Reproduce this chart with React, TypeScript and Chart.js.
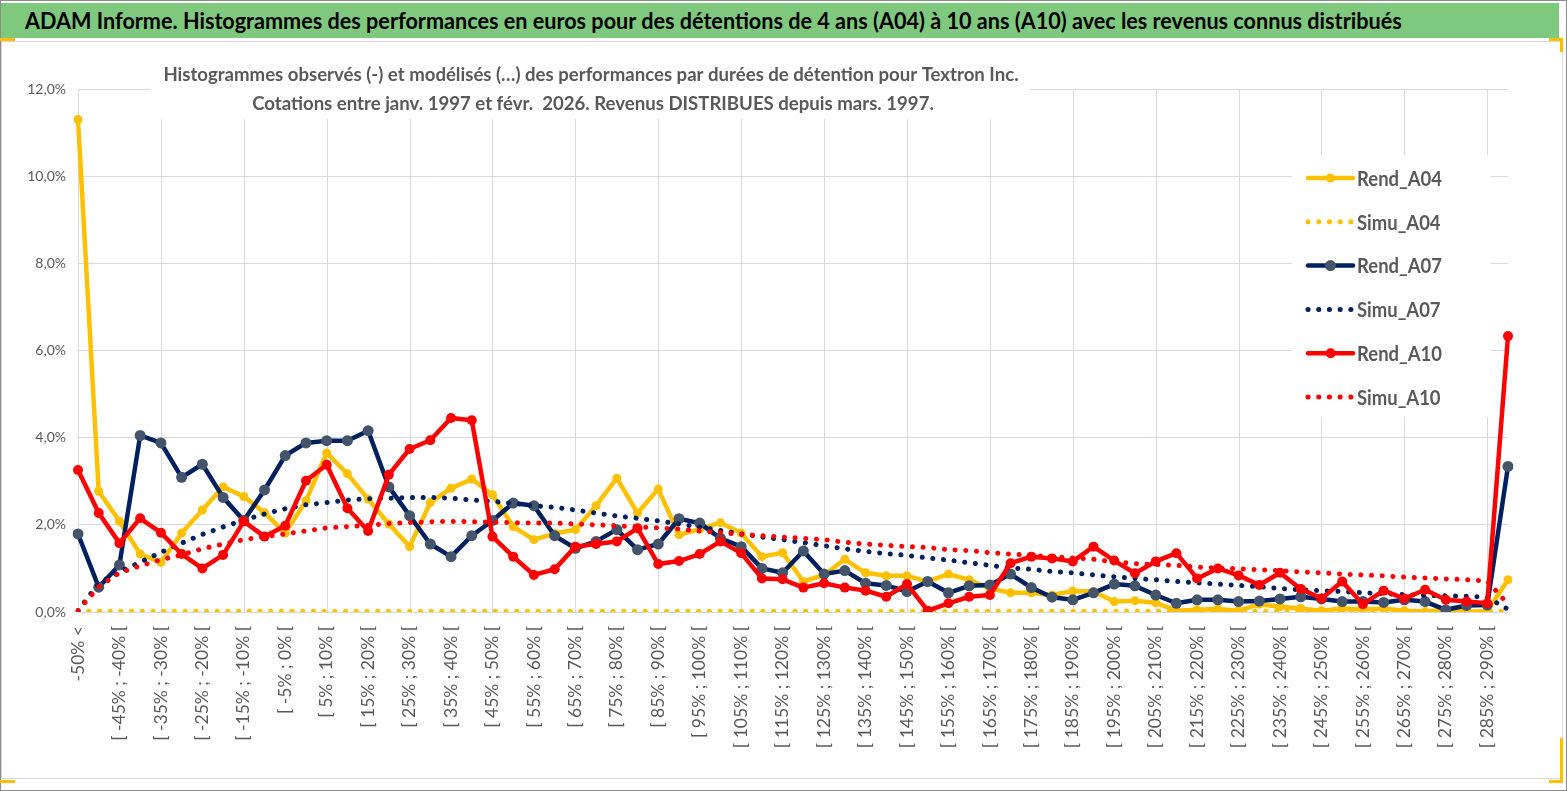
import React, { useEffect, useRef } from 'react';
import { Chart, registerables } from 'chart.js';

Chart.register(...registerables);

const headerTitle =
  'ADAM Informe. Histogrammes des performances en euros pour des détentions de 4 ans (A04) à 10 ans (A10) avec les revenus connus distribués';

const chartTitleLines = [
  'Histogrammes observés (-) et modélisés (…) des performances par durées de détention pour Textron Inc.',
  'Cotations entre janv. 1997 et févr.  2026. Revenus DISTRIBUES depuis mars. 1997.',
];

const categories = [
  '-50% <', '[ -50% ; -45% [', '[ -45% ; -40% [', '[ -40% ; -35% [', '[ -35% ; -30% [',
  '[ -30% ; -25% [', '[ -25% ; -20% [', '[ -20% ; -15% [', '[ -15% ; -10% [', '[ -10% ; -5% [',
  '[ -5% ; 0% [', '[ 0% ; 5% [', '[ 5% ; 10% [', '[ 10% ; 15% [', '[ 15% ; 20% [',
  '[ 20% ; 25% [', '[ 25% ; 30% [', '[ 30% ; 35% [', '[ 35% ; 40% [', '[ 40% ; 45% [',
  '[ 45% ; 50% [', '[ 50% ; 55% [', '[ 55% ; 60% [', '[ 60% ; 65% [', '[ 65% ; 70% [',
  '[ 70% ; 75% [', '[ 75% ; 80% [', '[ 80% ; 85% [', '[ 85% ; 90% [', '[ 90% ; 95% [',
  '[ 95% ; 100% [', '[ 100% ; 105% [', '[ 105% ; 110% [', '[ 110% ; 115% [', '[ 115% ; 120% [',
  '[ 120% ; 125% [', '[ 125% ; 130% [', '[ 130% ; 135% [', '[ 135% ; 140% [', '[ 140% ; 145% [',
  '[ 145% ; 150% [', '[ 150% ; 155% [', '[ 155% ; 160% [', '[ 160% ; 165% [', '[ 165% ; 170% [',
  '[ 170% ; 175% [', '[ 175% ; 180% [', '[ 180% ; 185% [', '[ 185% ; 190% [', '[ 190% ; 195% [',
  '[ 195% ; 200% [', '[ 200% ; 205% [', '[ 205% ; 210% [', '[ 210% ; 215% [', '[ 215% ; 220% [',
  '[ 220% ; 225% [', '[ 225% ; 230% [', '[ 230% ; 235% [', '[ 235% ; 240% [', '[ 240% ; 245% [',
  '[ 245% ; 250% [', '[ 250% ; 255% [', '[ 255% ; 260% [', '[ 260% ; 265% [', '[ 265% ; 270% [',
  '[ 270% ; 275% [', '[ 275% ; 280% [', '[ 280% ; 285% [', '[ 285% ; 290% [', '> 290%',
];

// values in percent
const rendA04 = [
  11.3, 2.77, 2.08, 1.33, 1.14, 1.81, 2.34, 2.87, 2.65, 2.28,
  1.81, 2.55, 3.65, 3.17, 2.59, 2.02, 1.5, 2.51, 2.84, 3.05,
  2.69, 1.96, 1.66, 1.8, 1.89, 2.44, 3.07, 2.27, 2.82, 1.77,
  1.9, 2.05, 1.81, 1.27, 1.36, 0.7, 0.85, 1.21, 0.9, 0.83,
  0.83, 0.7, 0.87, 0.74, 0.54, 0.44, 0.44, 0.39, 0.48, 0.47,
  0.24, 0.26, 0.21, 0.03, 0.05, 0.07, 0.03, 0.18, 0.12, 0.08,
  0.03, 0.08, 0.06, 0.08, 0.03, 0.01, 0.05, 0.01, 0.02, 0.74,
];

const simuA04 = [
  0.02, 0.02, 0.02, 0.02, 0.02, 0.02, 0.02, 0.02, 0.02, 0.02,
  0.02, 0.02, 0.02, 0.02, 0.02, 0.02, 0.02, 0.02, 0.02, 0.02,
  0.02, 0.02, 0.02, 0.02, 0.02, 0.02, 0.02, 0.02, 0.02, 0.02,
  0.02, 0.02, 0.02, 0.02, 0.02, 0.02, 0.02, 0.02, 0.02, 0.02,
  0.02, 0.02, 0.02, 0.02, 0.02, 0.02, 0.02, 0.02, 0.02, 0.02,
  0.02, 0.02, 0.02, 0.02, 0.02, 0.02, 0.02, 0.02, 0.02, 0.02,
  0.02, 0.02, 0.02, 0.02, 0.02, 0.02, 0.02, 0.02, 0.02, 0.02,
];

const rendA07 = [
  1.79, 0.57, 1.08, 4.05, 3.88, 3.09, 3.39, 2.63, 2.1, 2.8,
  3.59, 3.88, 3.93, 3.93, 4.16, 2.87, 2.21, 1.56, 1.27, 1.75,
  2.1, 2.5, 2.44, 1.75, 1.46, 1.62, 1.89, 1.43, 1.56, 2.14,
  2.04, 1.69, 1.5, 1.0, 0.9, 1.4, 0.87, 0.95, 0.66, 0.61,
  0.47, 0.7, 0.44, 0.6, 0.62, 0.87, 0.56, 0.34, 0.28, 0.44,
  0.64, 0.6, 0.39, 0.2, 0.28, 0.28, 0.24, 0.25, 0.3, 0.35,
  0.3, 0.24, 0.24, 0.22, 0.28, 0.24, 0.05, 0.15, 0.16, 3.34,
];

const simuA07 = [
  0.03, 0.66, 0.93, 1.14, 1.37, 1.58, 1.78, 1.95, 2.11, 2.25,
  2.37, 2.46, 2.51, 2.57, 2.6, 2.61, 2.63, 2.63, 2.61, 2.57,
  2.54, 2.49, 2.44, 2.4, 2.34, 2.27, 2.2, 2.15, 2.09, 2.02,
  1.95, 1.87, 1.79, 1.72, 1.66, 1.59, 1.52, 1.45, 1.39, 1.34,
  1.3, 1.24, 1.19, 1.13, 1.07, 1.01, 0.98, 0.93, 0.9, 0.85,
  0.81, 0.77, 0.74, 0.7, 0.67, 0.64, 0.61, 0.58, 0.54, 0.51,
  0.49, 0.47, 0.44, 0.42, 0.4, 0.38, 0.37, 0.36, 0.34, 0.06,
];

const rendA10 = [
  3.26, 2.27, 1.58, 2.15, 1.82, 1.33, 1.0, 1.31, 2.08, 1.73,
  1.98, 3.01, 3.38, 2.38, 1.86, 3.15, 3.74, 3.94, 4.45, 4.4,
  1.73, 1.27, 0.85, 0.98, 1.5, 1.56, 1.62, 1.92, 1.1, 1.17,
  1.33, 1.62, 1.35, 0.77, 0.75, 0.56, 0.66, 0.56, 0.49, 0.35,
  0.64, 0.03, 0.2, 0.35, 0.39, 1.12, 1.27, 1.23, 1.16, 1.5,
  1.18, 0.89, 1.16, 1.35, 0.77, 1.0, 0.84, 0.62, 0.9, 0.53,
  0.31, 0.7, 0.18, 0.49, 0.31, 0.51, 0.28, 0.24, 0.2, 6.33,
];

const simuA10 = [
  0.03, 0.58, 0.9, 1.06, 1.2, 1.31, 1.45, 1.56, 1.66, 1.73,
  1.79, 1.86, 1.93, 1.96, 1.99, 2.03, 2.05, 2.07, 2.08, 2.07,
  2.06, 2.05, 2.04, 2.04, 2.02, 2.0, 1.98, 1.95, 1.93, 1.9,
  1.86, 1.82, 1.78, 1.75, 1.72, 1.69, 1.66, 1.6, 1.56, 1.53,
  1.5, 1.48, 1.43, 1.41, 1.36, 1.33, 1.3, 1.27, 1.24, 1.21,
  1.15, 1.11, 1.09, 1.07, 1.03, 1.01, 0.99, 0.97, 0.95, 0.92,
  0.9, 0.87, 0.85, 0.83, 0.8, 0.78, 0.76, 0.74, 0.71, 0.18,
];

const yTicks = [0, 2, 4, 6, 8, 10, 12];
const xGridEvery = 4;
const xLabelEvery = 2;

const YELLOW = '#FFC000';
const NAVY = '#002060';
const NAVY_MARK = '#44546A';
const RED = '#FF0000';
const GRAY_TEXT = '#595959';
const GRID = '#D9D9D9';

const solid = (label: string, data: number[], color: string, mark: string, r: number, order: number) => ({
  label,
  data,
  borderColor: color,
  backgroundColor: color,
  borderWidth: 4.5,
  borderJoinStyle: 'round',
  borderCapStyle: 'round',
  pointRadius: r,
  pointBackgroundColor: mark,
  pointBorderColor: mark,
  pointBorderWidth: 0,
  tension: 0,
  fill: false,
  order,
});

const dotted = (label: string, data: number[], color: string, order: number) => ({
  label,
  data,
  borderColor: color,
  backgroundColor: color,
  borderWidth: 5,
  borderDash: [0.1, 10.6],
  borderCapStyle: 'round',
  pointRadius: 0,
  tension: 0,
  fill: false,
  order,
});

const drawNarrowText = (
  ctx: CanvasRenderingContext2D,
  text: string,
  x: number,
  y: number,
  sx: number,
) => {
  ctx.save();
  ctx.translate(x, y);
  ctx.scale(sx, 1);
  ctx.fillText(text, 0, 0);
  ctx.restore();
};

const overlayPlugin = {
  id: 'overlayPlugin',
  beforeDatasetsDraw(chart: any) {
    const ctx = chart.ctx as CanvasRenderingContext2D;
    const area = chart.chartArea;
    const xs = chart.scales.x;
    ctx.save();
    // vertical grid lines every 4 categories
    ctx.strokeStyle = GRID;
    ctx.lineWidth = 1;
    for (let i = 0; i < categories.length; i += xGridEvery) {
      const px = Math.round(xs.getPixelForValue(i)) + 0.5;
      ctx.beginPath();
      ctx.moveTo(px, area.top);
      ctx.lineTo(px, area.bottom);
      ctx.stroke();
    }
    // title box
    ctx.fillStyle = '#ffffff';
    ctx.fillRect(150, 58, 880, 61);
    // legend box
    ctx.fillRect(1292, 155, 199, 262);

    ctx.fillStyle = GRAY_TEXT;
    ctx.font = 'bold 18.6px Lato';
    ctx.textAlign = 'center';
    ctx.textBaseline = 'middle';
    ctx.fillText(chartTitleLines[0], 591, 75);
    ctx.fillText(chartTitleLines[1], 593, 104);

    chart.data.datasets.forEach((ds: any, i: number) => {
      const y = 178 + i * 43.8;
      const x0 = 1308;
      const x1 = 1353;
      ctx.save();
      ctx.strokeStyle = ds.borderColor;
      ctx.lineWidth = ds.borderWidth;
      ctx.lineCap = 'round';
      if (ds.borderDash) ctx.setLineDash(ds.borderDash);
      ctx.beginPath();
      ctx.moveTo(x0, y);
      ctx.lineTo(x1, y);
      ctx.stroke();
      ctx.setLineDash([]);
      if (ds.pointRadius > 0) {
        ctx.fillStyle = ds.pointBackgroundColor;
        ctx.beginPath();
        ctx.arc((x0 + x1) / 2, y, ds.pointRadius, 0, Math.PI * 2);
        ctx.fill();
      }
      ctx.restore();
      ctx.fillStyle = GRAY_TEXT;
      ctx.font = 'bold 21px Lato';
      ctx.textAlign = 'left';
      ctx.textBaseline = 'middle';
      drawNarrowText(ctx, ds.label, 1357, y + 1, 0.88);
    });
    ctx.restore();
  },
};

export default function App() {
  const canvasRef = useRef<HTMLCanvasElement | null>(null);

  useEffect(() => {
    if (!canvasRef.current) return;
    const chart = new Chart(canvasRef.current, {
      type: 'line',
      data: {
        labels: categories,
        datasets: [
          solid('Rend_A04', rendA04, YELLOW, YELLOW, 4.5, 6),
          dotted('Simu_A04', simuA04, YELLOW, 5),
          solid('Rend_A07', rendA07, NAVY, NAVY_MARK, 5.5, 4),
          dotted('Simu_A07', simuA07, NAVY, 3),
          solid('Rend_A10', rendA10, RED, RED, 5, 2),
          dotted('Simu_A10', simuA10, RED, 1),
        ] as any,
      },
      options: {
        animation: false,
        responsive: false,
        devicePixelRatio: 1,
        layout: { padding: { left: 0, top: 89, right: 59, bottom: 0 } },
        plugins: {
          legend: { display: false },
          title: { display: false },
          tooltip: { enabled: false },
        },
        scales: {
          x: {
            type: 'category',
            offset: false,
            afterFit: (scale: any) => {
              scale.height = 179;
            },
            grid: { display: false, drawTicks: false },
            border: { display: false },
            ticks: {
              autoSkip: false,
              maxRotation: 90,
              minRotation: 90,
              padding: 14,
              color: GRAY_TEXT,
              font: { family: 'Lato', size: 17.5 },
              callback: (_v: any, idx: number) => (idx % xLabelEvery === 0 ? categories[idx] : ''),
            },
          },
          y: {
            min: 0,
            max: 12,
            afterFit: (scale: any) => {
              scale.width = 78;
            },
            afterBuildTicks: (scale: any) => {
              scale.ticks = yTicks.map((v) => ({ value: v }));
            },
            grid: { color: GRID, lineWidth: 1, drawTicks: false },
            border: { display: false },
            ticks: {
              padding: 12,
              color: GRAY_TEXT,
              font: { family: 'Lato', size: 14 },
              callback: (v: any) => Number(v).toFixed(1).replace('.', ',') + '%',
            },
          },
        },
      } as any,
      plugins: [overlayPlugin],
    });
    return () => chart.destroy();
  }, []);

  const abs = (s: React.CSSProperties): React.CSSProperties => ({ position: 'absolute', pointerEvents: 'none', ...s });

  return (
    <div style={{ position: 'absolute', left: 0, top: 0, width: 1567, height: 791, background: '#ffffff', overflow: 'hidden' }}>
      <canvas ref={canvasRef} width={1567} height={791} style={{ position: 'absolute', left: 0, top: 0, width: 1567, height: 791 }} />
      {/* header bar */}
      <div
        style={abs({
          left: 1,
          top: 3,
          width: 1558,
          height: 35,
          background: '#7FC97F',
          boxSizing: 'border-box',
          overflow: 'hidden',
        })}
      >
        <div
          style={{
            position: 'absolute',
            left: 24,
            top: 0,
            color: '#000000',
            fontFamily: 'Lato, sans-serif',
            fontWeight: 700,
            fontSize: 23,
            lineHeight: '35px',
            whiteSpace: 'nowrap',
            transform: 'scaleX(0.94)',
            transformOrigin: 'left center',
          }}
        >
          {headerTitle}
        </div>
      </div>
      {/* chart frame */}
      <div style={abs({ left: 1, top: 41, width: 1562, height: 738, border: '1px solid #D9D9D9', boxSizing: 'border-box' })} />
      {/* outer frame */}
      <div style={abs({ left: 0, top: 0, width: 1567, height: 791, border: '1px solid #8C8C8C', boxSizing: 'border-box' })} />
      {/* selection handles */}
      <div style={abs({ left: 0, top: 38, width: 15, height: 3, background: YELLOW })} />
      <div style={abs({ left: 1549, top: 38, width: 14, height: 3, background: YELLOW })} />
      <div style={abs({ left: 1560, top: 38, width: 3, height: 14, background: YELLOW })} />
      <div style={abs({ left: 1560, top: 738, width: 3, height: 45, background: YELLOW })} />
      <div style={abs({ left: 1549, top: 780, width: 14, height: 3, background: YELLOW })} />
      <div style={abs({ left: 0, top: 780, width: 15, height: 3, background: YELLOW })} />
    </div>
  );
}
